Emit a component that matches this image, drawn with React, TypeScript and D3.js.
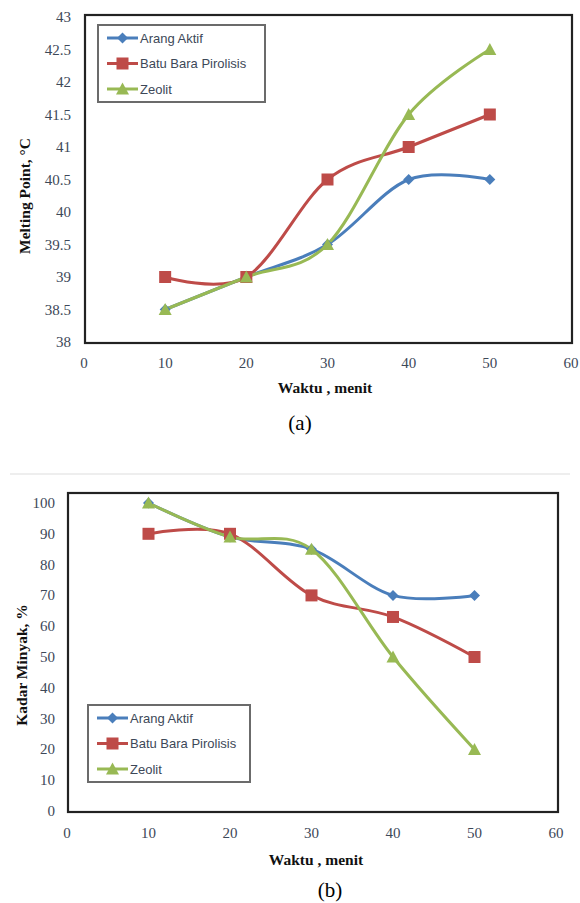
import React from 'react';
import * as d3 from 'd3';

const waktu = [10, 20, 30, 40, 50];
const seriesNames = ['Arang Aktif', 'Batu Bara Pirolisis', 'Zeolit'];
const colors = ['#4a7ebb', '#be4b48', '#98b954'];

// (a) melting point
const meltArang = [38.5, 39, 39.5, 40.5, 40.5];
const meltBatu = [39, 39, 40.5, 41, 41.5];
const meltZeolit = [38.5, 39, 39.5, 41.5, 42.5];
const meltTicks = [38, 38.5, 39, 39.5, 40, 40.5, 41, 41.5, 42, 42.5, 43];

// (b) kadar minyak
const oilArang = [100, 89, 85, 70, 70];
const oilBatu = [90, 90, 70, 63, 50];
const oilZeolit = [100, 89, 85, 50, 20];
const oilTicks = [0, 10, 20, 30, 40, 50, 60, 70, 80, 90, 100];

const xTicks = [0, 10, 20, 30, 40, 50, 60];

function Marker({ kind, x, y, color }) {
  if (kind === 0) {
    const r = 5.5;
    return <path d={`M${x},${y - r}L${x + r},${y}L${x},${y + r}L${x - r},${y}Z`} fill={color} />;
  }
  if (kind === 1) {
    return <rect x={x - 6} y={y - 6} width={12} height={12} fill={color} />;
  }
  return <path d={`M${x},${y - 6.5}L${x + 6.5},${y + 5.5}L${x - 6.5},${y + 5.5}Z`} fill={color} />;
}

function Panel({ top, box, x0, x60, yBot, yTop, domain, ticks, series, yTitle, label, legendPos, yTitleX, yTitleY, labelPos, tickGap }) {
  const x = d3.scaleLinear().domain([0, 60]).range([x0, x60]);
  const y = d3.scaleLinear().domain(domain).range([yBot, yTop]);
  const line = d3.line<number>()
    .x((_, i) => x(waktu[i]))
    .y(d => y(d))
    .curve(d3.curveCardinal.tension(0));
  const tickFont = { fontFamily: 'Liberation Serif', fontSize: 15, fill: '#3d4858' };
  return (
    <g>
      <rect x={box[0]} y={box[1]} width={box[2] - box[0]} height={box[3] - box[1]} fill="#fff" stroke="#222" strokeWidth={2.2} />
      {ticks.map(t => (
        <text key={t} x={box[0] - tickGap} y={y(t) + 5} textAnchor="end" {...tickFont}>{t}</text>
      ))}
      {xTicks.map(t => (
        <text key={t} x={x(t)} y={top.xTickY} textAnchor="middle" {...tickFont}>{t}</text>
      ))}
      {series.map((s, k) => (
        <path key={k} d={line(s) || ''} fill="none" stroke={colors[k]} strokeWidth={3} />
      ))}
      {series.map((s, k) => s.map((v, i) => (
        <Marker key={`${k}-${i}`} kind={k} x={x(waktu[i])} y={y(v)} color={colors[k]} />
      )))}
      <text x={top.xTitleX} y={top.xTitleY} textAnchor="middle" fontFamily="Liberation Serif" fontWeight="bold" fontSize={15.5} fill="#111">Waktu , menit</text>
      <text transform={`translate(${yTitleX},${yTitleY}) rotate(-90)`} textAnchor="middle" fontFamily="Liberation Serif" fontWeight="bold" fontSize={15.5} fill="#111">{yTitle}</text>
      <text x={labelPos[0]} y={labelPos[1]} textAnchor="middle" fontFamily="Liberation Serif" fontSize={21} fill="#000">{label}</text>
      <g transform={`translate(${legendPos[0]},${legendPos[1]})`}>
        <rect x={0} y={0} width={legendPos[2]} height={77} fill="#fff" stroke="#6b6b6b" strokeWidth={2} />
        {seriesNames.map((n, k) => (
          <g key={n} transform={`translate(0,${13 + k * 25.5})`}>
            <line x1={9} x2={40} y1={0} y2={0} stroke={colors[k]} strokeWidth={3} />
            <Marker kind={k} x={24.5} y={0} color={colors[k]} />
            <text x={42} y={4.5} fontFamily="Liberation Sans Narrow, Liberation Sans" fontSize={13} fill="#3d4858">{n}</text>
          </g>
        ))}
      </g>
    </g>
  );
}

export default function App() {
  return (
    <svg width={580} height={903} style={{ position: 'absolute', left: 0, top: 0, background: '#fff' }}>
      <rect width={580} height={903} fill="#fff" />
      <Panel
        top={{ xTickY: 368, xTitleX: 325, xTitleY: 393 }}
        box={[85, 15, 572, 343]}
        x0={84} x60={571} yBot={342} yTop={17}
        domain={[38, 43]} ticks={meltTicks} tickGap={14}
        series={[meltArang, meltBatu, meltZeolit]}
        yTitle="Melting Point, °C" yTitleX={30} yTitleY={196}
        label="(a)" labelPos={[300, 430]}
        legendPos={[98, 25, 167]}
      />
      <line x1={10} x2={570} y1={474} y2={474} stroke="#e8e8e8" strokeWidth={1.5} />
      <Panel
        top={{ xTickY: 838, xTitleX: 316, xTitleY: 865 }}
        box={[68, 493, 558, 812]}
        x0={67} x60={556} yBot={811} yTop={503}
        domain={[0, 100]} ticks={oilTicks} tickGap={13}
        series={[oilArang, oilBatu, oilZeolit]}
        yTitle="Kadar Minyak, %" yTitleX={27} yTitleY={665}
        label="(b)" labelPos={[330, 897]}
        legendPos={[88, 705, 162]}
      />
    </svg>
  );
}
